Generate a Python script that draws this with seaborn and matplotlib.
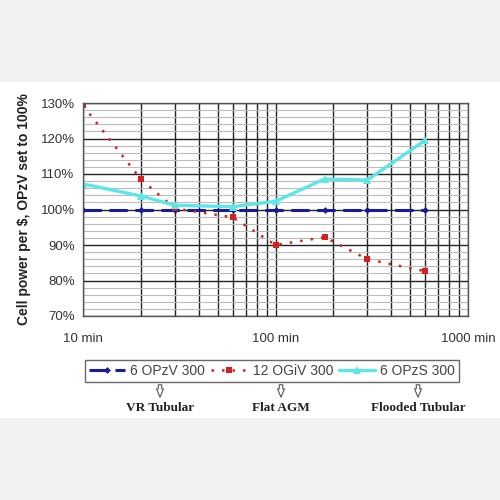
from matplotlib import pyplot as plt
from matplotlib.patches import Rectangle
from matplotlib.ticker import FixedLocator, MultipleLocator, NullFormatter
import pandas as pd
import seaborn as sns

minutes = [10, 20, 30, 60, 100, 180, 300, 600]
opzv = [100, 100, 100, 100, 100, 100, 100, 100]
ogiv = [129.3, 108.5, 100.3, 97.8, 90.0, 92.2, 86.0, 82.6]
opzs = [107.2, 103.8, 101.2, 100.8, 102.3, 108.6, 108.3, 119.5]
series_names = ['6 OPzV 300', '12 OGiV 300', '6 OPzS 300']
types = ['VR Tubular', 'Flat AGM', 'Flooded Tubular']

df = pd.DataFrame({'min': minutes, series_names[0]: opzv,
                   series_names[1]: ogiv, series_names[2]: opzs})

sns.set_style("white")
plt.rcParams['font.family'] = ['Liberation Sans', 'DejaVu Sans']

f = plt.figure(figsize=(5, 5), dpi=100)
f.patch.set_facecolor('#f2f2f2')
f.patches.append(Rectangle((0, 0.164), 1, 0.672, transform=f.transFigure,
                           facecolor='white', edgecolor='none', zorder=-1))
ax = f.add_axes([0.166, 0.368, 0.770, 0.426])

sns.lineplot(data=df, x='min', y=series_names[0], ax=ax, color='#1a1a9c',
             lw=2.2, marker='D', markersize=3.5, markeredgewidth=0,
             label=series_names[0])
ax.lines[-1].set_dashes([6, 2.5])
sns.lineplot(data=df, x='min', y=series_names[1], ax=ax, color='#d42020',
             lw=1.8, marker='s', markersize=5, markeredgewidth=0,
             label=series_names[1])
ax.lines[-1].set_dashes([1, 3.2])
sns.lineplot(data=df, x='min', y=series_names[2], ax=ax, color='#5ee6e6',
             lw=2.4, marker='^', markersize=6, markeredgewidth=0,
             label=series_names[2])

ax.set_xscale('log')
ax.set_xlim(10, 1000)
ax.set_ylim(70, 130)
ax.xaxis.set_major_locator(FixedLocator([10, 100, 1000]))
ax.set_xticklabels(['10 min', '100 min', '1000 min'])
ax.xaxis.set_minor_locator(FixedLocator([m * d for d in (10, 100) for m in range(2, 10)]))
ax.xaxis.set_minor_formatter(NullFormatter())
ax.yaxis.set_minor_locator(MultipleLocator(2))
ax.set_yticks(range(70, 131, 10))
ax.set_yticklabels([f'{v}%' for v in range(70, 131, 10)])

ax.grid(which='major', axis='both', color='#222222', lw=1.0)
ax.grid(which='minor', axis='x', color='#222222', lw=1.0)
ax.grid(which='minor', axis='y', color='#bbbbbb', lw=0.8)
ax.set_axisbelow(True)
for s in ax.spines.values():
    s.set_color('#555555')
    s.set_linewidth(1.0)
ax.tick_params(axis='both', which='both', length=0, labelsize=9.5,
               labelcolor='#333333', pad=6)
ax.tick_params(axis='x', pad=12)
ax.set_xlabel('')
ax.set_ylabel('Cell power per $, OPzV set to 100%', fontsize=10,
              fontweight='bold', color='#222222', labelpad=7)

ax.legend_.remove()
handles = ax.lines[:3]
leg = f.legend(handles, series_names, ncol=3, loc='center',
               bbox_to_anchor=(0.544, 0.258), fontsize=10, frameon=True,
               fancybox=False, handlelength=2.6, columnspacing=0.4,
               handletextpad=0.4, borderpad=0.3, borderaxespad=0)
leg.get_frame().set_edgecolor('#444444')
leg.get_frame().set_linewidth(1.0)
for t in leg.get_texts():
    t.set_color('#444444')

arrow_x = [160, 281, 418]
for xpix, name in zip(arrow_x, types):
    ax.annotate('', xy=(xpix, 100), xytext=(xpix, 118), xycoords='figure pixels',
                textcoords='figure pixels',
                arrowprops=dict(arrowstyle='simple,head_width=0.5,head_length=0.6,tail_width=0.25',
                                fc='white', ec='#555555', lw=0.8))
    f.text(xpix / 500, 0.184, name, ha='center', va='center', fontsize=9.5,
           fontweight='bold', family=['Liberation Serif', 'DejaVu Serif'],
           color='#222222')

f.savefig('out.png', dpi=100, facecolor=f.get_facecolor())
